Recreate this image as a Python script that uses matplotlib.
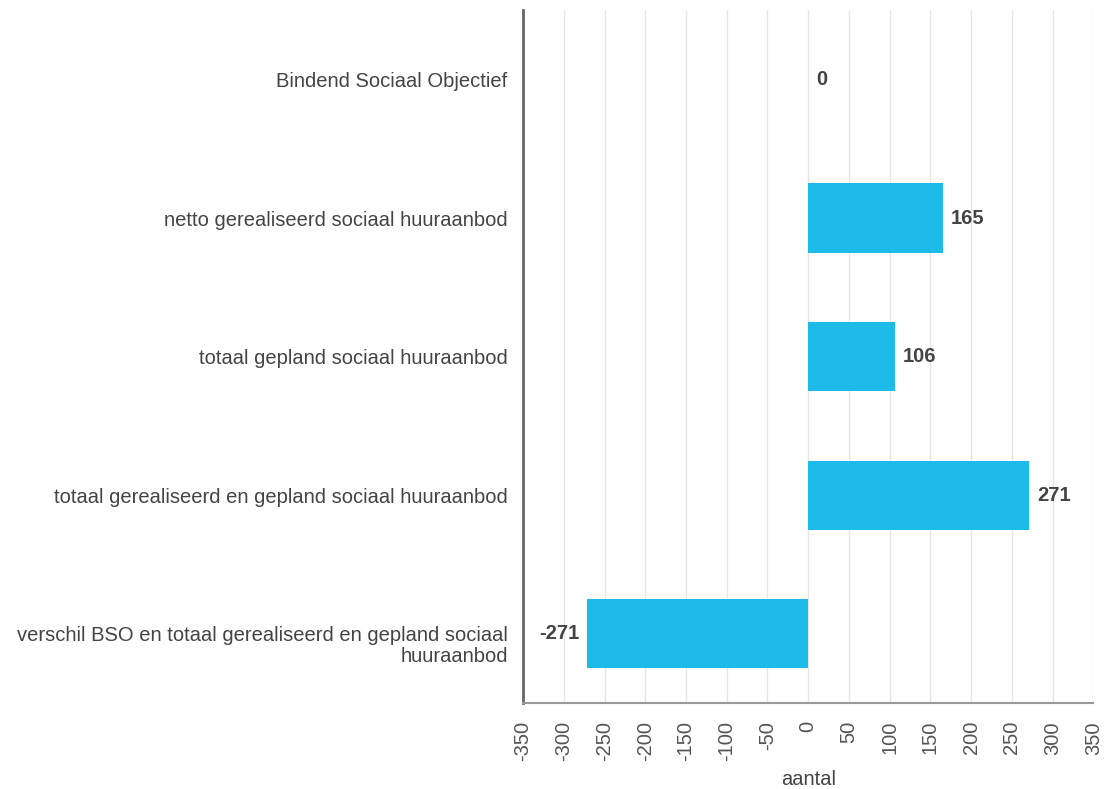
import numpy as np
import matplotlib.pyplot as plt

plt.rcParams['font.family'] = ['Liberation Sans', 'DejaVu Sans']

# data
categories = [
    "Bindend Sociaal Objectief",
    "netto gerealiseerd sociaal huuraanbod",
    "totaal gepland sociaal huuraanbod",
    "totaal gerealiseerd en gepland sociaal huuraanbod",
    "verschil BSO en totaal gerealiseerd en gepland sociaal\nhuuraanbod",
]
values = [0, 165, 106, 271, -271]
xticks = list(range(-350, 351, 50))

fs = 14.5

fig = plt.figure(figsize=(11.14, 7.89), dpi=100)
ax = fig.add_axes([0.4695, 0.109, 0.512, 0.878])

y = np.arange(len(categories))
ax.barh(y, values, height=0.5, color="#1dbbe8", zorder=3)

for yi, v in zip(y, values):
    if v < 0:
        ax.annotate(f"{v}", (v, yi), xytext=(-6, 0), textcoords="offset points",
                    ha="right", va="center", fontsize=fs, fontweight="bold", color="#444444")
    else:
        ax.annotate(f"{v}", (v, yi), xytext=(6, 0), textcoords="offset points",
                    ha="left", va="center", fontsize=fs, fontweight="bold", color="#444444")

ax.set_xlim(-350, 350)
ax.set_ylim(len(categories) - 0.5, -0.5)
ax.set_xticks(xticks)
ax.set_xticklabels([str(t) for t in xticks], rotation=90, fontsize=fs, color="#555555")

# category labels: first line centred on the bar, extra lines hang below
ax.set_yticks(y)
ax.set_yticklabels([])
for yi, cat in zip(y, categories):
    ax.annotate(cat, xy=(0, yi), xycoords=("axes fraction", "data"),
                xytext=(-11, 5.4), textcoords="offset points",
                ha="right", va="top", multialignment="right", linespacing=1.1,
                fontsize=fs, color="#444444")

ax.tick_params(axis="both", length=0)
ax.tick_params(axis="x", pad=13)

ax.grid(axis="x", color="#e6e6e6", linewidth=1, zorder=0)
ax.set_axisbelow(True)

ax.spines["top"].set_visible(False)
ax.spines["right"].set_visible(False)
ax.spines["left"].set_color("#666666")
ax.spines["left"].set_linewidth(2)
ax.spines["bottom"].set_color("#999999")
ax.spines["bottom"].set_linewidth(1.5)

ax.set_xlabel("aantal", fontsize=fs, color="#444444", labelpad=6)

fig.savefig("out.png", dpi=100)
